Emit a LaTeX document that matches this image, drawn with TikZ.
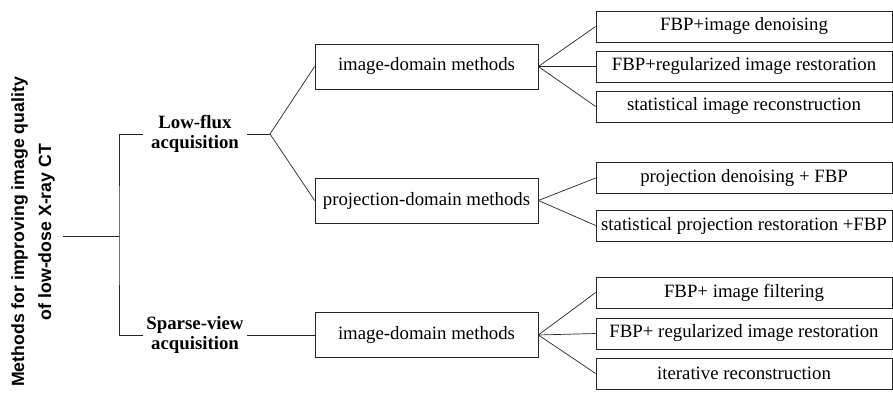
\documentclass[tikz,border=0pt]{standalone}
\usepackage{fontspec}
\setmainfont{Liberation Serif}
\setsansfont{Liberation Sans}
\usetikzlibrary{positioning}

\begin{document}
\begin{tikzpicture}[
    x=1pt, y=1pt,
    every node/.style={font=\fontsize{18.8}{20.5}\selectfont},
    link/.style={line width=0.7pt, black!85},
    midbox/.style={draw, line width=0.7pt, black!85, text=black,
        minimum width=223pt, minimum height=45pt, inner sep=0pt},
    leafbox/.style={draw, line width=0.7pt, black!85, text=black,
        minimum width=296pt, minimum height=31pt, inner sep=0pt},
    group/.style={align=center, font=\fontsize{18.8}{20}\selectfont\bfseries,
        minimum width=104pt, inner sep=0pt}
]
\useasboundingbox (0,0) rectangle (893,401);

% --- Title (rotated) ---
\node[rotate=90, align=center, font=\sffamily\bfseries\fontsize{17.7}{27}\selectfont]
    (title) at (33,169) {Methods for improving image quality\\of low-dose X-ray CT};
\coordinate (root) at (63,165);
\coordinate (split) at (119,165);

% --- Acquisition groups ---
\node[group] (lowflux) at (195,267) {Low-flux\\acquisition};
\node[group] (sparse) at (195,66) {Sparse-view\\acquisition};
\coordinate (fork) at (270,267);

% --- Domain methods ---
\node[midbox] (imgA) at (426.5,334.5) {image-domain methods};
\node[midbox] (proj) at (426.5,200.5) {projection-domain methods};
\node[midbox] (imgB) at (426.5,66) {image-domain methods};

% --- Leaf methods ---
\node[leafbox] (leafA1) at (744,374.5) {FBP+image denoising};
\node[leafbox] (leafA2) at (744,334.5) {FBP+regularized image restoration};
\node[leafbox] (leafA3) at (744,294.5) {statistical image reconstruction};
\node[leafbox] (leafP1) at (744,223) {projection denoising + FBP};
\node[leafbox] (leafP2) at (744,175.5) {statistical projection restoration +FBP};
\node[leafbox] (leafB1) at (744,108.5) {FBP+ image filtering};
\node[leafbox] (leafB2) at (744,67.5) {FBP+ regularized image restoration};
\node[leafbox] (leafB3) at (744,27.5) {iterative reconstruction};

% --- Connectors ---
\draw[link] (root) -- (split);
\draw[link] (lowflux.west) -| (split) |- (sparse.west);
\draw[link] (lowflux.east) -- (fork);
\draw[link] (fork) -- (imgA.west);
\draw[link] (fork) -- (proj.west);
\draw[link] (sparse.east) -- (imgB.west);

\foreach \leaf in {leafA1,leafA2,leafA3}
    \draw[link] (imgA.east) -- (\leaf.west);
\foreach \leaf in {leafP1,leafP2}
    \draw[link] (proj.east) -- (\leaf.west);
\foreach \leaf in {leafB1,leafB2,leafB3}
    \draw[link] (imgB.east) -- (\leaf.west);

\end{tikzpicture}
\end{document}
